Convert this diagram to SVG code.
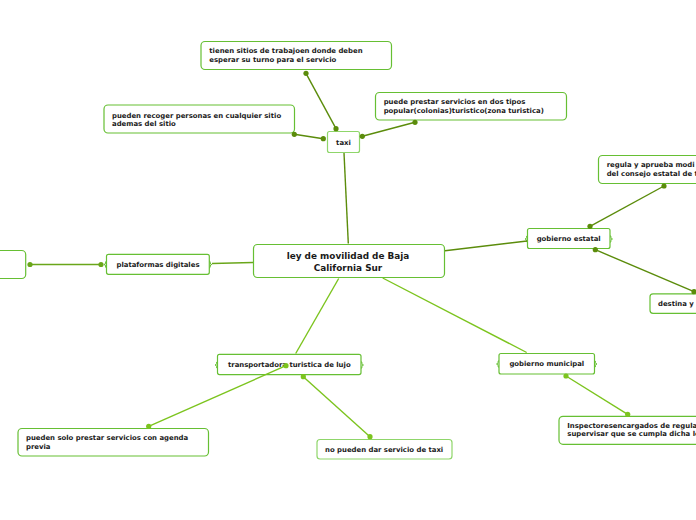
<svg xmlns="http://www.w3.org/2000/svg" width="696" height="520" viewBox="0 0 696 520">
<style>
.box{fill:#fff;stroke:#66bf33;stroke-width:1.2}
.lt{stroke:#8fd66a}
.t{font-family:"DejaVu Sans",Verdana,sans-serif;font-weight:bold;font-size:6.9px;fill:#1a1a1a}
.c{font-size:8.9px;text-anchor:middle}
.m{text-anchor:middle}
.ol{stroke:#5b8c0b;stroke-width:1.4;fill:none}
.yg{stroke:#7cc41e;stroke-width:1.4;fill:none}
.pg{stroke:#6aa61a;stroke-width:1.6;fill:none}
.dol{fill:#5b8c0b}
.dyg{fill:#7cc41e}
.dpg{fill:#6aa61a}
.br{fill:none;stroke:#66bf33;stroke-width:1}
</style>
<rect width="696" height="520" fill="#fff"/>
<g id="center">
<rect class="box" x="253.5" y="244.5" width="191" height="33" rx="4"/>
<text class="t c" x="348" y="259">ley de movilidad de Baja</text>
<text class="t c" x="348" y="270.5">California Sur</text>
</g>
<g id="taxi">
<rect class="box lt" x="327.5" y="131.5" width="32" height="21" rx="2"/>
<text class="t m" x="343.5" y="145">taxi</text>
</g>
<g id="tienen">
<rect class="box" x="201" y="41.5" width="190.5" height="28" rx="4"/>
<text class="t" x="209.3" y="53.3">tienen sitios de trabajoen donde deben</text>
<text class="t" x="209.3" y="62.3">esperar su turno para el servicio</text>
</g>
<g id="recoger">
<rect class="box" x="104" y="105" width="190.5" height="28" rx="4"/>
<text class="t" x="112" y="117.5">pueden recoger personas en cualquier sitio</text>
<text class="t" x="112" y="126">ademas del sitio</text>
</g>
<g id="prestar">
<rect class="box" x="375.5" y="92.5" width="191" height="27.5" rx="4"/>
<text class="t" x="383.7" y="104.2">puede prestar servicios en dos tipos</text>
<text class="t" x="383.7" y="113.2">popular(colonias)turistico(zona turistica)</text>
</g>
<g id="estatal">
<rect class="box" x="527.5" y="228.5" width="82.5" height="20" rx="2"/>
<path class="br" d="M527.5,235.5 q-1,0 -1,2 q0,1.5 -1.5,1.5 q1.5,0 1.5,1.5 q0,2 1,2"/>
<path class="br" d="M610,235.5 q1,0 1,2 q0,1.5 1.5,1.5 q-1.5,0 -1.5,1.5 q0,2 -1,2"/>
<text class="t m" x="568.7" y="241">gobierno estatal</text>
</g>
<g id="regula">
<rect class="box" x="598.5" y="155.5" width="140" height="28" rx="4"/>
<text class="t" x="606.7" y="166.7">regula y aprueba modi</text>
<text class="t" x="606.7" y="175.5">del consejo estatal de t</text>
</g>
<g id="destina">
<rect class="box" x="650" y="293.8" width="80" height="19.5" rx="3"/>
<text class="t" x="658" y="306">destina y</text>
</g>
<g id="plataformas">
<rect class="box" x="106.5" y="254.3" width="102.8" height="20" rx="2"/>
<path class="br" d="M106.5,261 q-1,0 -1,2 q0,1.5 -1.5,1.5 q1.5,0 1.5,1.5 q0,2 1,2"/>
<path class="br" d="M209.3,261 q1,0 1,2 q0,1.5 1.5,1.5 q-1.5,0 -1.5,1.5 q0,2 -1,2"/>
<text class="t m" x="158" y="266.8">plataformas digitales</text>
</g>
<g id="left">
<rect class="box" x="-150" y="250.5" width="175.7" height="28" rx="4"/>
</g>
<g id="transportadora">
<rect class="box" x="217.5" y="354.3" width="143.5" height="20.3" rx="2"/>
<path class="br" d="M217.5,361.5 q-1,0 -1,2 q0,1.5 -1.5,1.5 q1.5,0 1.5,1.5 q0,2 1,2"/>
<path class="br" d="M361,361.5 q1,0 1,2 q0,1.5 1.5,1.5 q-1.5,0 -1.5,1.5 q0,2 -1,2"/>
<text class="t m" x="289.3" y="366.6">transportadora turistica de lujo</text>
</g>
<g id="agenda">
<rect class="box" x="18" y="428.5" width="190.5" height="27.5" rx="4"/>
<text class="t" x="26" y="440.3">pueden solo prestar servicios con agenda</text>
<text class="t" x="26" y="449.2">previa</text>
</g>
<g id="nopueden">
<rect class="box lt" x="317" y="439.5" width="135" height="19.5" rx="3"/>
<text class="t" x="325" y="451.8">no pueden dar servicio de taxi</text>
</g>
<g id="municipal">
<rect class="box" x="499" y="353.5" width="95.5" height="20.5" rx="2"/>
<path class="br" d="M499,360.5 q-1,0 -1,2 q0,1.5 -1.5,1.5 q1.5,0 1.5,1.5 q0,2 1,2"/>
<path class="br" d="M594.5,360.5 q1,0 1,2 q0,1.5 1.5,1.5 q-1.5,0 -1.5,1.5 q0,2 -1,2"/>
<text class="t m" x="546.8" y="366.3">gobierno municipal</text>
</g>
<g id="inspectores">
<rect class="box" x="559" y="416.3" width="160" height="28" rx="4"/>
<text class="t" x="567.3" y="427.8">Inspectoresencargados de regula</text>
<text class="t" x="567.3" y="436.3">supervisar que se cumpla dicha le</text>
</g>
<g id="connectors">
<path class="ol" d="M348.3,243.5 L344,153"/>
<path class="ol" d="M336,128.7 L306,73.3"/>
<path class="ol" d="M323.3,138.7 L294.3,134.3"/>
<path class="ol" d="M362.3,136.3 L415,122.3"/>
<path class="ol" d="M445,250.7 L527,241"/>
<path class="ol" d="M590,226.3 L664,186"/>
<path class="ol" d="M595.3,249.7 L694,291.7"/>
<path class="pg" d="M212,263.5 L253,262.5"/>
<path class="pg" d="M30,264.5 L101,264.5"/>
<path class="yg" d="M338.7,278.5 L295.7,353.5"/>
<path class="yg" d="M286,365.7 L148.7,426.3"/>
<path class="yg" d="M303.3,376.7 L370,436.7"/>
<path class="yg" d="M382.7,278 L526.7,352.5"/>
<path class="yg" d="M566,376 L627.7,414.3"/>
<g class="dol">
<circle cx="336" cy="128.7" r="2.6"/><circle cx="306" cy="73.3" r="2.6"/>
<circle cx="323.3" cy="138.7" r="2.6"/><circle cx="294.3" cy="134.3" r="2.6"/>
<circle cx="362.3" cy="136.3" r="2.6"/><circle cx="415" cy="122.3" r="2.6"/>
<circle cx="590" cy="226.3" r="2.6"/><circle cx="664" cy="186" r="2.6"/>
<circle cx="595.3" cy="249.7" r="2.6"/><circle cx="694" cy="291.7" r="2.6"/>
</g>
<g class="dpg">
<circle cx="30" cy="264.5" r="2.6"/><circle cx="101" cy="264.5" r="2.6"/>
</g>
<g class="dyg">
<circle cx="286" cy="365.7" r="2.6"/><circle cx="148.7" cy="426.3" r="2.6"/>
<circle cx="303.3" cy="376.7" r="2.6"/><circle cx="370" cy="436.7" r="2.6"/>
<circle cx="566" cy="376" r="2.6"/><circle cx="627.7" cy="414.3" r="2.6"/>
</g>
</g>
</svg>
